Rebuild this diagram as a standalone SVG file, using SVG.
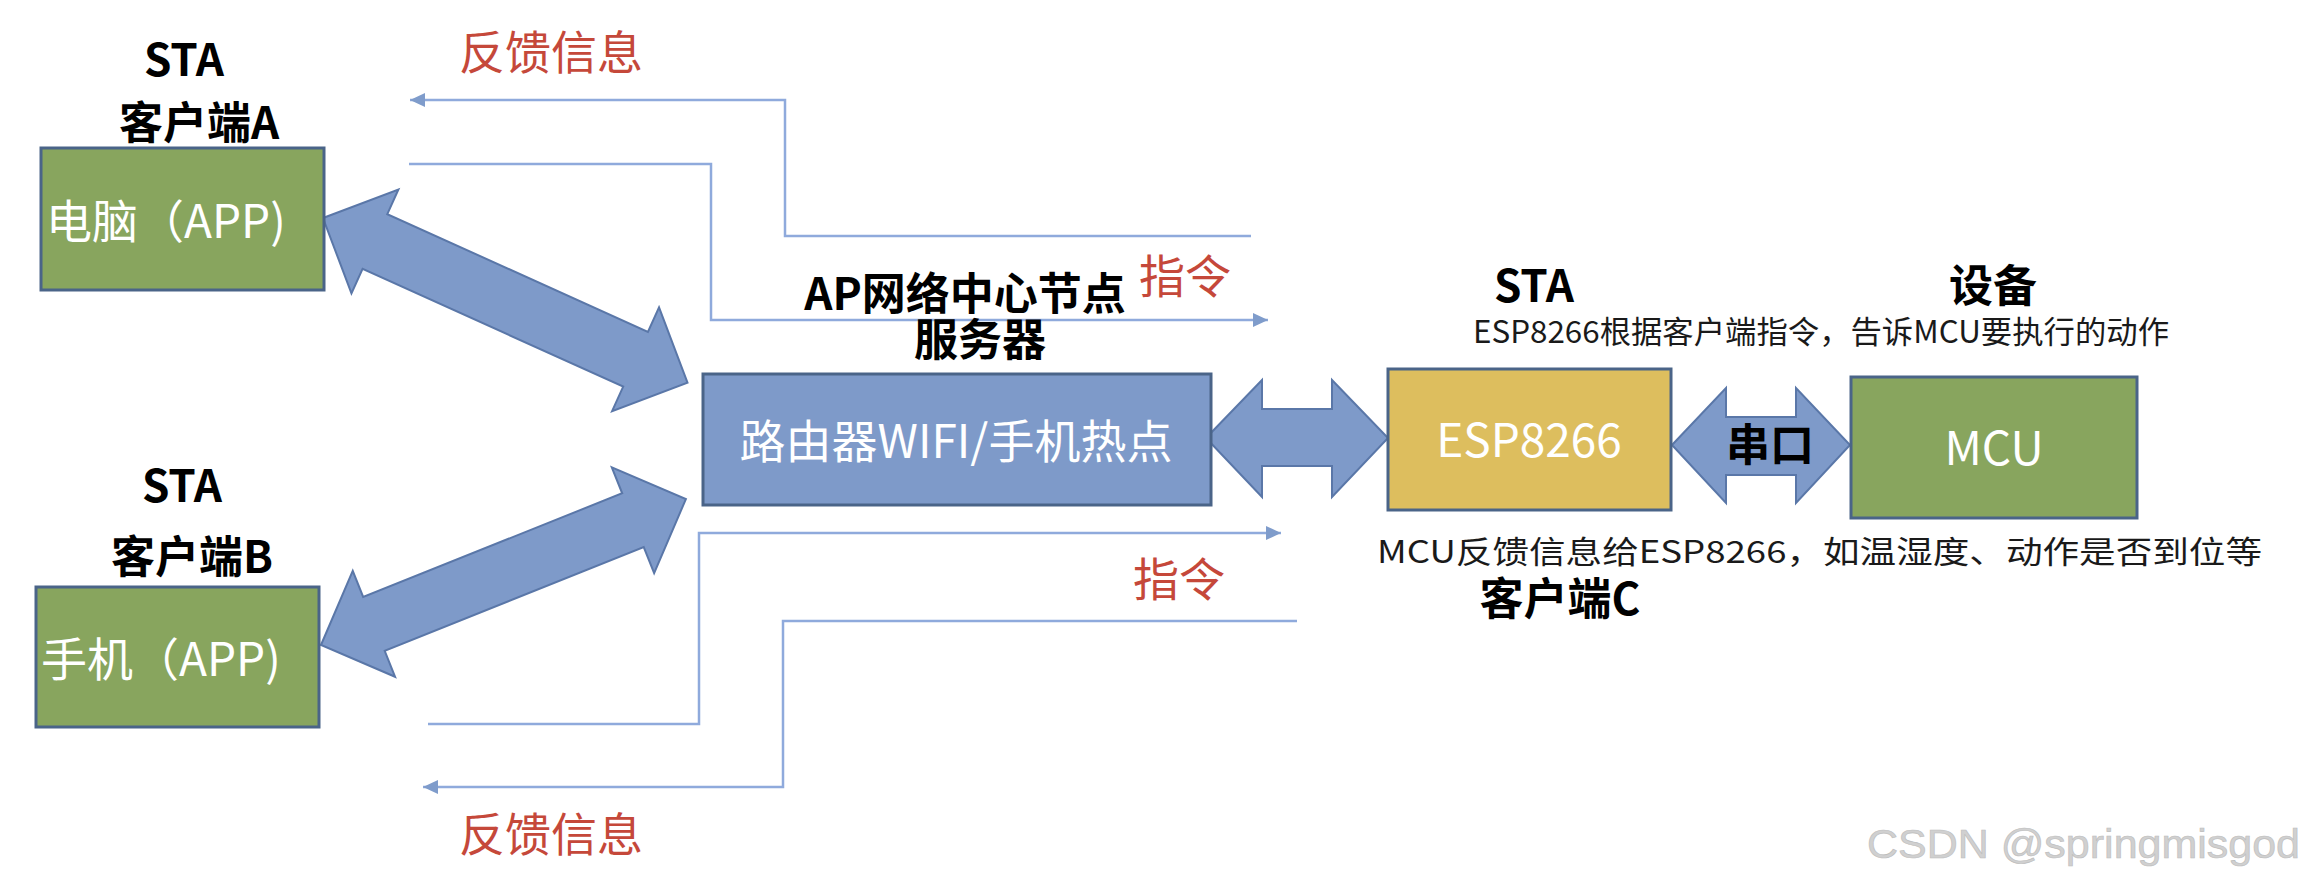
<svg xmlns="http://www.w3.org/2000/svg" width="2305" height="877" viewBox="0 0 2305 877">
<style>
text{font-family:"Noto Sans CJK SC","Liberation Sans",sans-serif;}
.lbl{font-weight:bold;fill:#000;font-size:44px;text-anchor:middle;}
.red{fill:#C5483A;font-size:46px;}
.wt{fill:#fff;font-size:46px;}
.sm{fill:#1a1a1a;font-size:31px;}
.box{stroke:#4A6488;stroke-width:3;}
.g{fill:#88A55E;}
.blk{fill:#7E9AC9;stroke:#5A77A8;stroke-width:2;}
.ln{fill:none;stroke:#8FAADC;stroke-width:2.5;}
</style>
<defs>
<marker id="ah" markerUnits="userSpaceOnUse" markerWidth="16" markerHeight="16" viewBox="0 0 16 16" refX="15" refY="8" orient="auto">
<path d="M0,1 L15,8 L0,15 Z" fill="#7F9CCB"/>
</marker>
</defs>
<rect width="2305" height="877" fill="#fff"/>

<g id="connectors">
<path class="ln" d="M1251,236 H785 V100 H410" marker-end="url(#ah)"/>
<path class="ln" d="M409,164 H711 V320 H1268" marker-end="url(#ah)"/>
<path class="ln" d="M428,724 H699 V533 H1281" marker-end="url(#ah)"/>
<path class="ln" d="M1297,621 H783 V787 H423" marker-end="url(#ah)"/>
<polygon class="blk" transform="translate(323,218) rotate(24.32)" points="0,0 57,-57 57,-30 343,-30 343,-57 400,0 343,57 343,30 57,30 57,57"/>
<polygon class="blk" transform="translate(321,645) rotate(-21.8)" points="0,0 57,-57 57,-29 336,-29 336,-57 393,0 336,57 336,29 57,29 57,57"/>
<polygon class="blk" points="1206,438 1262,380 1262,409 1332,409 1332,380 1388,438 1332,497 1332,466 1262,466 1262,497"/>
<polygon class="blk" points="1672,445 1726,388 1726,417 1796,417 1796,388 1850,445 1796,503 1796,475 1726,475 1726,503"/>
<text class="lbl" x="1770" y="461">串口</text>
<text class="red" x="459" y="69">反馈信息</text>
<text class="red" x="1139" y="293">指令</text>
<text class="red" x="1133" y="596">指令</text>
<text class="red" x="459" y="851">反馈信息</text>
</g>

<g id="clientA">
<text class="lbl" x="184" y="76">STA</text>
<text class="lbl" x="199" y="139" font-size="48">客户端A</text>
<rect class="box g" x="41" y="148" width="283" height="142"/>
<text class="wt" x="46" y="238">电脑（APP)</text>
</g>

<g id="clientB">
<text class="lbl" x="182" y="502">STA</text>
<text class="lbl" x="192" y="573" font-size="48">客户端B</text>
<rect class="box g" x="36" y="587" width="283" height="140"/>
<text class="wt" x="41" y="676">手机（APP)</text>
</g>

<g id="router">
<text class="lbl" x="965" y="310" font-size="47">AP网络中心节点</text>
<text class="lbl" x="980" y="356" font-size="46">服务器</text>
<rect class="box" fill="#7E9AC9" x="703" y="374" width="508" height="131"/>
<text class="wt" x="956" y="458" text-anchor="middle">路由器WIFI/手机热点</text>
</g>

<g id="esp8266">
<text class="lbl" x="1534" y="302">STA</text>
<rect class="box" fill="#DDBE5E" x="1388" y="369" width="283" height="141"/>
<text class="wt" x="1529" y="457" text-anchor="middle" font-size="43">ESP8266</text>
<text class="lbl" x="1560" y="615" font-size="48">客户端C</text>
</g>

<g id="mcu">
<text class="lbl" x="1993" y="302" font-size="46">设备</text>
<rect class="box g" x="1851" y="377" width="286" height="141"/>
<text class="wt" x="1994" y="465" text-anchor="middle" font-size="44">MCU</text>
</g>

<g id="notes">
<text class="sm" x="1473" y="343" textLength="696" lengthAdjust="spacingAndGlyphs">ESP8266根据客户端指令，告诉MCU要执行的动作</text>
<text class="sm" x="1377" y="563" font-size="36" textLength="885" lengthAdjust="spacingAndGlyphs">MCU反馈信息给ESP8266，如温湿度、动作是否到位等</text>
</g>

<text x="1867" y="858" font-size="40" fill="#d0d0d0" stroke="#bdbdbd" stroke-width="0.6" textLength="433" lengthAdjust="spacingAndGlyphs" style="font-family:'Liberation Sans',sans-serif">CSDN @springmisgod</text>
</svg>
